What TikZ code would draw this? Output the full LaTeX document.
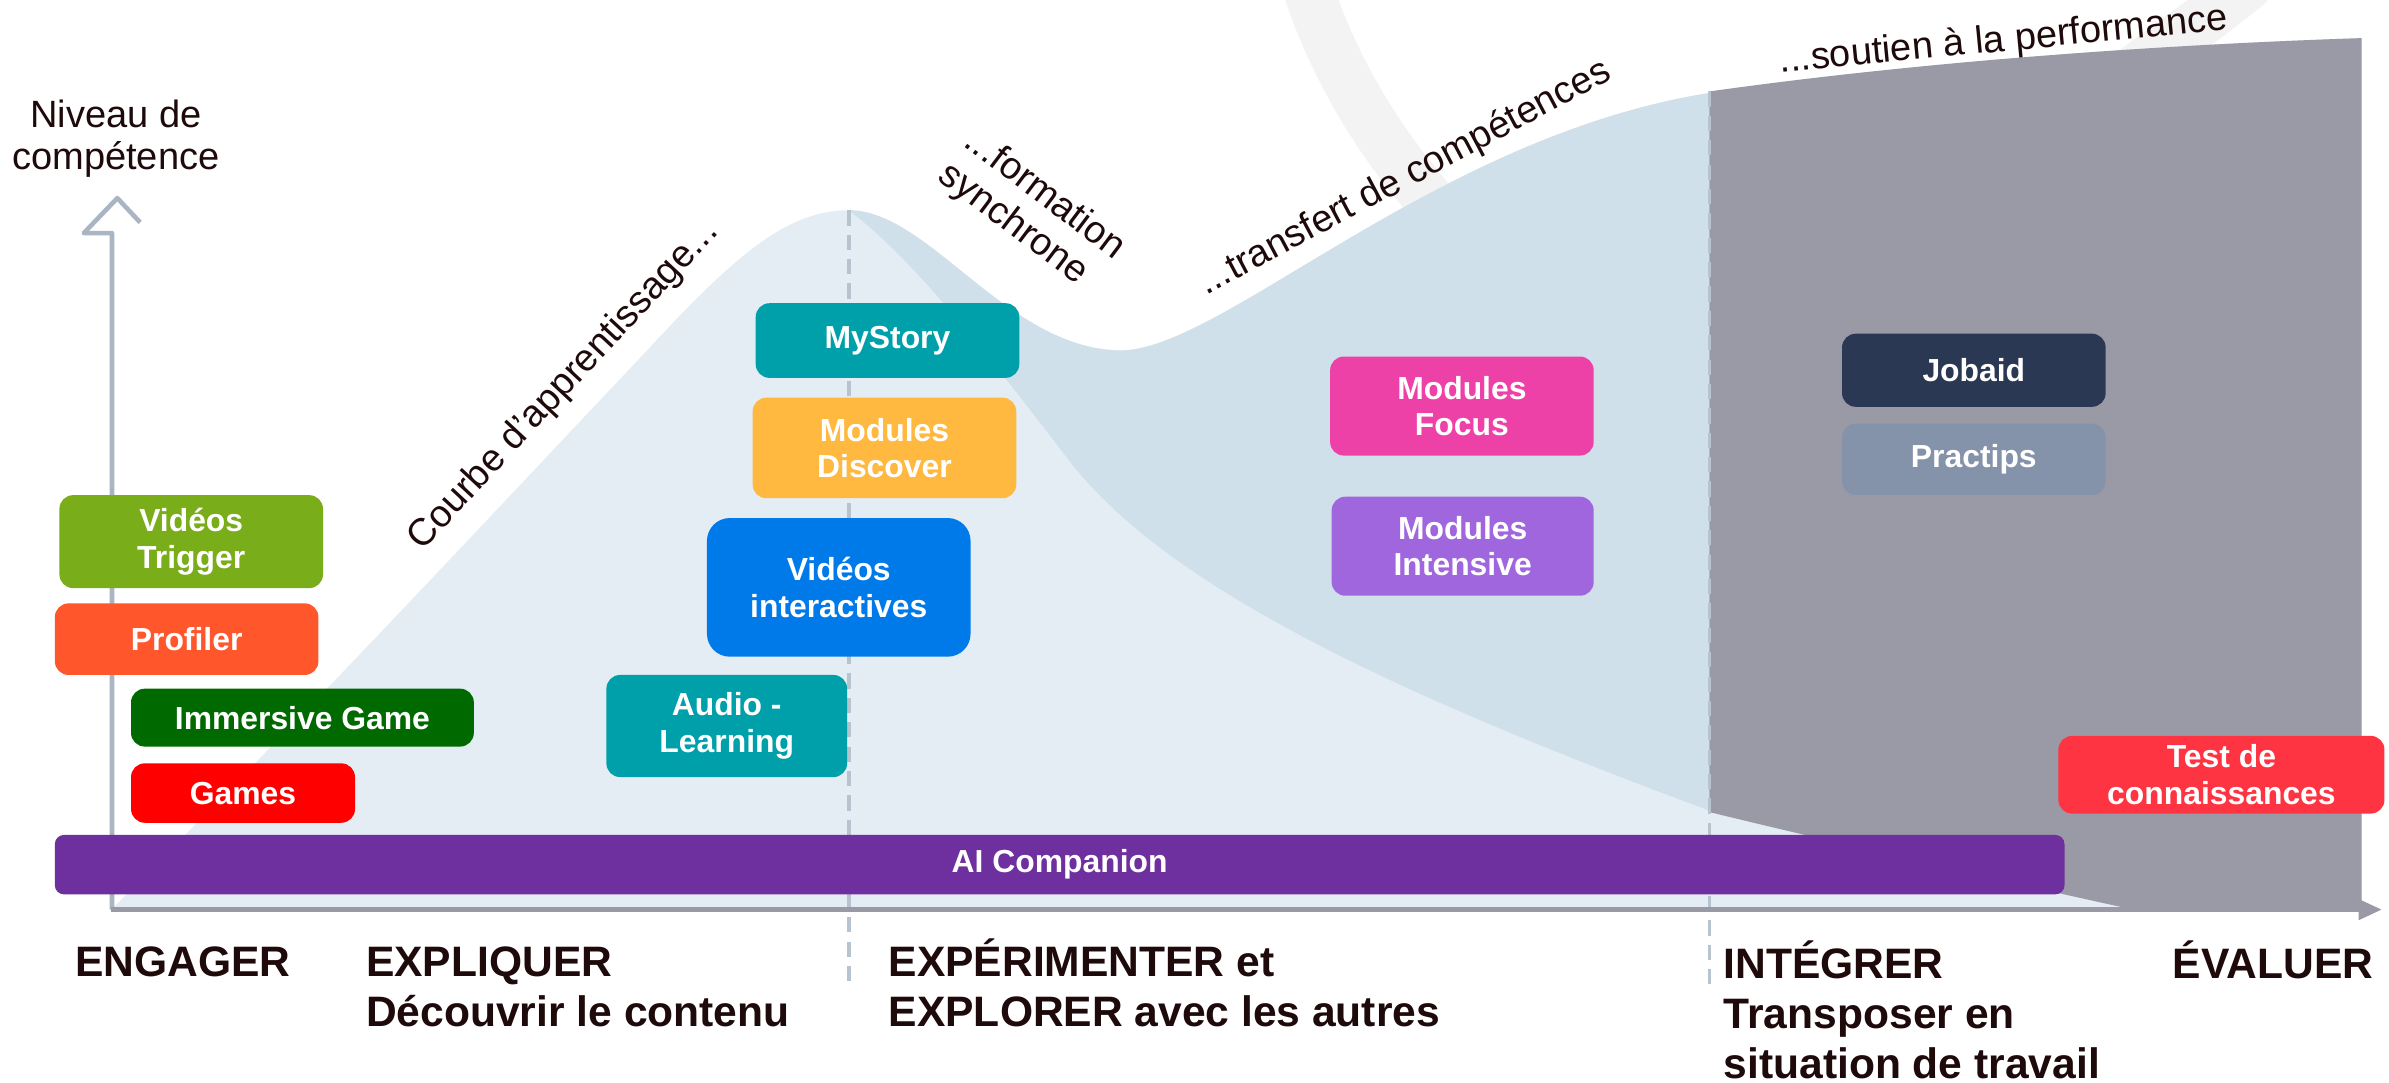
\documentclass[tikz,border=0pt]{standalone}
\usepackage{fontspec}
\setmainfont{Liberation Sans}
\definecolor{cLight}{HTML}{E4EDF4}
\definecolor{cDark}{HTML}{CFE0EA}
\definecolor{cGray}{HTML}{9A9AA6}
\definecolor{cRing}{HTML}{F3F3F3}
\definecolor{cDash}{HTML}{B8C3D0}
\definecolor{cYaxis}{HTML}{AAB5C3}
\definecolor{cXaxis}{HTML}{9A9AA6}
\definecolor{cText}{HTML}{1E0A0A}
\definecolor{cTrig}{HTML}{7AAD1A}
\definecolor{cProf}{HTML}{FF572B}
\definecolor{cImm}{HTML}{006A00}
\definecolor{cGames}{HTML}{FF0000}
\definecolor{cAI}{HTML}{6E309E}
\definecolor{cTeal}{HTML}{00A0AB}
\definecolor{cVint}{HTML}{007AE8}
\definecolor{cDisc}{HTML}{FFB840}
\definecolor{cFocus}{HTML}{EE41A8}
\definecolor{cInt}{HTML}{A066DD}
\definecolor{cJob}{HTML}{2B3854}
\definecolor{cPrac}{HTML}{8593AA}
\definecolor{cTest}{HTML}{FF3442}
\newcommand\bxfont{\fontsize{11.9pt}{13.6pt}\selectfont\bfseries}
\newcommand\lblfont{\fontsize{14.2pt}{15.9pt}\selectfont}
\newcommand\phfont{\fontsize{15.9pt}{19pt}\selectfont\bfseries}
\begin{document}
\begin{tikzpicture}[x=0.2mm,y=-0.2mm,
  box/.style={rounded corners=1.8mm, inner sep=0pt, text=white, font=\bxfont, align=center},
  curvetxt/.style={text=cText, font=\lblfont, inner sep=0pt, align=left},
  phase/.style={text=cText, font=\phfont, inner sep=0pt},
  dashline/.style={cDash, line width=0.5mm, dash pattern=on 2mm off 1.2mm}]
\useasboundingbox (0,0) rectangle (1568,710.8);
\clip (0,0) rectangle (1568,710.8);
\fill[white] (0,0) rectangle (1568,710.8);
% faint background band
\draw[cRing, line width=6.6mm] (856,-15) .. controls (873,40) and (905,100) .. (965,160);
\draw[cRing, line width=6.6mm] (1478,-12) .. controls (1445,15) and (1415,35) .. (1380,62);
% coordinates
\coordinate (O) at (73,597);
\coordinate (pk) at (557,138);
\coordinate (val) at (734,230);
\coordinate (tr) at (1122,61);
\coordinate (gtr) at (1550,25);
\coordinate (gbr) at (1550,597);
\coordinate (gbl) at (1400,597);
\coordinate (dlow) at (1122,532);
\coordinate (mid) at (700,300);
% light region
\fill[cLight] (O) .. controls (200,470) and (330,330) .. (420,235)
  .. controls (480,170) and (515,138) .. (pk)
  .. controls (610,138) and (660,228) .. (val)
  .. controls (800,232) and (940,90) .. (tr)
  .. controls (1250,42) and (1400,30) .. (gtr) -- (gbr) -- cycle;
% darker region
\fill[cDark] (pk) .. controls (610,138) and (660,228) .. (val)
  .. controls (800,232) and (940,90) .. (tr) -- (dlow)
  .. controls (900,450) and (760,380) .. (mid)
  .. controls (650,235) and (600,170) .. (pk) -- cycle;
% gray region
\fill[cGray] (1122,60) .. controls (1250,42) and (1400,30) .. (gtr) -- (gbr) -- (gbl)
  .. controls (1300,575) and (1200,552) .. (1122,533) -- cycle;
% dashed lines
\coordinate (pkb) at (557,648);
\coordinate (d2t) at (1122,60);
\coordinate (d2b) at (1122,648);
\draw[dashline] (pk) -- (pkb);
\draw[dashline] (d2t) -- (d2b);
% axes
\coordinate (yh) at (73.5,153);
\coordinate (yl) at (55,153);
\coordinate (ytip) at (77,130);
\coordinate (yr) at (92,146);
\draw[cYaxis, line width=0.6mm, line join=round] (73.5,597) -- (yh) -- (yl) -- (ytip) -- (yr);
\coordinate (xe) at (1549,597);
\draw[cXaxis, line width=0.6mm] (O) -- (xe);
\fill[cXaxis] (1548,590) -- (1563,597) -- (1548,604) -- cycle;
% boxes
\node[box, fill=cTrig, minimum width=34.6mm, minimum height=12.2mm] (trig) at (125.5,355.5) {Vidéos\\Trigger};
\node[box, fill=cProf, minimum width=34.6mm, minimum height=9.4mm] (prof) at (122.5,419.5) {Profiler};
\node[box, fill=cImm, minimum width=45mm, minimum height=7.6mm] (imm) at (198.5,471) {Immersive Game};
\node[box, fill=cGames, minimum width=29.4mm, minimum height=7.8mm] (games) at (159.5,520.5) {Games};
\node[box, fill=cAI, rounded corners=1.2mm, minimum width=263.8mm, minimum height=7.8mm] (ai) at (695.5,567.5) {AI Companion};
\node[box, fill=cTeal, minimum width=31.6mm, minimum height=13.4mm] (audio) at (477,476.5) {Audio -\\Learning};
\node[box, fill=cVint, rounded corners=3mm, minimum width=34.6mm, minimum height=18.2mm] (vint) at (550.5,385.5) {Vidéos\\interactives};
\node[box, fill=cDisc, minimum width=34.6mm, minimum height=13.2mm] (disc) at (580.5,294) {Modules\\Discover};
\node[box, fill=cTeal, minimum width=34.6mm, minimum height=9.8mm] (myst) at (582.5,223.5) {MyStory};
\node[box, fill=cFocus, minimum width=34.6mm, minimum height=13mm] (focus) at (959.5,266.5) {Modules\\Focus};
\node[box, fill=cInt, minimum width=34.4mm, minimum height=13mm] (intens) at (960,358.5) {Modules\\Intensive};
\node[box, fill=cJob, minimum width=34.6mm, minimum height=9.6mm] (job) at (1295.5,243) {Jobaid};
\node[box, fill=cPrac, minimum width=34.6mm, minimum height=9.4mm] (prac) at (1295.5,301.5) {Practips};
\node[box, fill=cTest, minimum width=42.8mm, minimum height=10.2mm] (test) at (1458,508.5) {Test de\\connaissances};
% axis label
\node[curvetxt, anchor=base] (niv1) at (76,84) {Niveau de};
\node[curvetxt, anchor=base] (niv2) at (76,111) {compétence};
% curve labels
\node[curvetxt, rotate=47] (courbe) at (370,253) {Courbe d'apprentissage...};
\node[curvetxt, rotate=-37] (form) at (677,139) {...formation\\synchrone};
\node[curvetxt, rotate=28] (transf) at (922,117) {...transfert de compétences};
\node[curvetxt, rotate=5.5] (sout) at (1315,27) {...soutien à la performance};
% phase labels
\node[phase, anchor=base west] (eng) at (49,641) {ENGAGER};
\node[phase, anchor=base west] (expl1) at (240,641) {EXPLIQUER};
\node[phase, anchor=base west] (expl2) at (240,674) {Découvrir le contenu};
\node[phase, anchor=base west] (expe1) at (583,641) {EXPÉRIMENTER et};
\node[phase, anchor=base west] (expe2) at (583,674) {EXPLORER avec les autres};
\node[phase, anchor=base west] (int1) at (1131,642) {INTÉGRER};
\node[phase, anchor=base west] (int2) at (1131,675) {Transposer en};
\node[phase, anchor=base west] (int3) at (1131,708) {situation de travail};
\node[phase, anchor=base east] (eval) at (1558,642) {ÉVALUER};
\end{tikzpicture}
\end{document}
